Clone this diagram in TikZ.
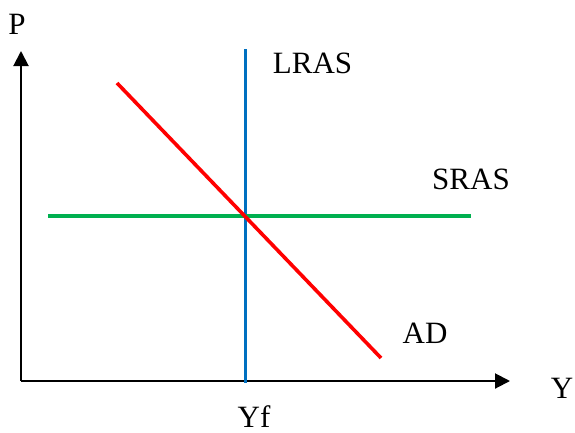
\documentclass[tikz,border=0pt]{standalone}
\usepackage{fontspec}
\setmainfont{Liberation Serif}
\usetikzlibrary{arrows.meta}
\definecolor{lrasblue}{HTML}{0070C0}
\definecolor{srasgreen}{HTML}{00B050}
\begin{document}
\begin{tikzpicture}[x=1pt,y=-1pt,
  axis/.style={line width=2pt,-{Triangle[length=15pt,width=15pt]}},
  curve/.style={line width=3.6pt},
  lbl/.style={inner sep=0pt,font=\fontsize{31}{36}\selectfont}]
\useasboundingbox (0,0) rectangle (575,432);
\coordinate (O) at (21,381);
\coordinate (ytop) at (21,51);
\coordinate (xend) at (510,381);
\draw[axis] (O) -- (ytop);
\draw[axis] (O) -- (xend);
\coordinate (lrasT) at (245.5,49);
\coordinate (lrasB) at (245.5,383);
\coordinate (srasL) at (48,216);
\coordinate (srasR) at (471,216);
\coordinate (adT) at (117,83);
\coordinate (adB) at (381,358);
\draw[curve,lrasblue] (lrasT) -- (lrasB);
\draw[curve,srasgreen] (srasL) -- (srasR);
\draw[curve,red] (adT) -- (adB);
\node[lbl] (P) at (17,24.5) {P};
\node[lbl] (Y) at (562,388) {Y};
\node[lbl] (LRAS) at (312.5,63) {LRAS};
\node[lbl] (SRAS) at (471,179) {SRAS};
\node[lbl] (AD) at (425,333) {AD};
\node[lbl] (Yf) at (254,417) {Yf};
\end{tikzpicture}
\end{document}
